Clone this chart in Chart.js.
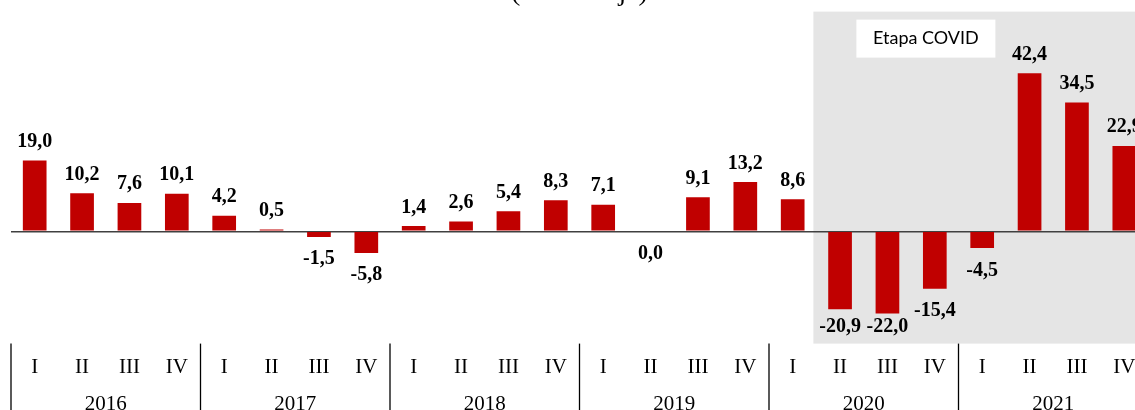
<!DOCTYPE html>
<html>
<head>
<meta charset="utf-8">
<script src="https://cdn.jsdelivr.net/npm/chart.js@4"></script>
<style>
	html, body { margin: 0; padding: 0; background: #fff; overflow: hidden; width: 1135px; height: 410px; }
	#grafico { position: absolute; left: 0; top: -24px; }
</style>
</head>
<body>
<canvas id="grafico" width="1158" height="442"></canvas>
<script>
// datos (variacion % por trimestre)
const quarterLabels = ['I', 'II', 'III', 'IV'];
const yearLabels = ['2016', '2017', '2018', '2019', '2020', '2021'];
const values2016 = [19.0, 10.2, 7.6, 10.1];
const values2017 = [4.2, 0.5, -1.5, -5.8];
const values2018 = [1.4, 2.6, 5.4, 8.3];
const values2019 = [7.1, 0.0, 9.1, 13.2];
const values2020 = [8.6, -20.9, -22.0, -15.4];
const values2021 = [-4.5, 42.4, 34.5, 22.9];
const covidStart = 17; // 2020 II
const covidLabel = 'Etapa COVID';
const titleText = '(Porcentaje)';

const labels = yearLabels.flatMap(() => quarterLabels);
const values = [].concat(values2016, values2017, values2018, values2019, values2020, values2021);

const serif = "'Liberation Serif', 'Times New Roman', serif";

// zona gris COVID + recuadro blanco
const covidPlugin = {
	id: 'covid',
	beforeDraw(chart) {
		const { ctx, chartArea, scales } = chart;
		const half = (scales.x.getPixelForValue(1) - scales.x.getPixelForValue(0)) / 2;
		const left = scales.x.getPixelForValue(covidStart) - half - 3;
		ctx.save();
		ctx.fillStyle = '#e5e5e5';
		ctx.fillRect(left, chartArea.top, chart.width - left, chartArea.bottom - chartArea.top);
		ctx.fillStyle = '#fff';
		ctx.fillRect(left + 43, chartArea.top + 8, 139, 38);
		ctx.fillStyle = '#000';
		ctx.font = "18px Lato, 'Open Sans', sans-serif";
		ctx.textAlign = 'center';
		ctx.textBaseline = 'middle';
		ctx.fillText(covidLabel, left + 43 + 69.5, chartArea.top + 8 + 19);
		ctx.restore();
	}
};

// etiquetas de valor sobre/bajo las barras
const valueLabels = {
	id: 'valueLabels',
	afterDatasetsDraw(chart) {
		const { ctx, chartArea } = chart;
		const meta = chart.getDatasetMeta(0);
		ctx.save();
		ctx.font = 'bold 20px ' + serif;
		ctx.fillStyle = '#000';
		ctx.textAlign = 'center';
		ctx.textBaseline = 'alphabetic';
		meta.data.forEach((bar, i) => {
			const v = values[i];
			const txt = v.toFixed(1).replace('.', ',');
			let y;
			if (v > 0) y = bar.y - 13.5;
			else y = Math.min(bar.y + 27.5, chartArea.bottom - 12);
			ctx.fillText(txt, bar.x, y);
		});
		ctx.restore();
	}
};

// lineas separadoras de anos
const yearLines = {
	id: 'yearLines',
	afterDraw(chart) {
		const { ctx, chartArea, scales } = chart;
		const half = (scales.x.getPixelForValue(1) - scales.x.getPixelForValue(0)) / 2;
		ctx.save();
		ctx.strokeStyle = '#000';
		ctx.lineWidth = 1.3;
		for (let k = 0; k <= yearLabels.length; k++) {
			const x = scales.x.getPixelForValue(k * 4) - half;
			ctx.beginPath();
			ctx.moveTo(x, chartArea.bottom);
			ctx.lineTo(x, chart.height);
			ctx.stroke();
		}
		ctx.restore();
	}
};

const ctx = document.getElementById('grafico').getContext('2d');
const chart = new Chart(ctx, {
	type: 'bar',
	data: {
		labels: labels,
		datasets: [{
			data: values,
			backgroundColor: '#c00000',
			borderWidth: 0,
			categoryPercentage: 1,
			barPercentage: 0.5
		}]
	},
	options: {
		responsive: false,
		animation: false,
		layout: { padding: { left: 11, right: 10, top: 0, bottom: 0 } },
		plugins: {
			legend: { display: false },
			tooltip: { enabled: false },
			title: {
				display: true,
				text: titleText,
				color: '#000',
				font: { family: serif, size: 28, weight: 'normal' },
				padding: { top: 0, bottom: 2 }
			}
		},
		scales: {
			x: {
				grid: { display: false },
				border: { display: false },
				ticks: { color: '#000', font: { family: serif, size: 21 }, padding: 3, maxRotation: 0, autoSkip: false }
			},
			x2: {
				type: 'category',
				labels: yearLabels,
				position: 'bottom',
				offset: true,
				grid: { display: false },
				border: { display: false },
				ticks: { color: '#000', font: { family: serif, size: 21 }, padding: 1, maxRotation: 0 }
			},
			y: {
				min: -30.1,
				max: 58.9,
				border: { display: false },
				ticks: { display: false },
				grid: {
					drawTicks: false,
					color: c => (c.tick && c.tick.value === 0) ? '#404040' : 'transparent',
					lineWidth: 1.6
				},
				afterBuildTicks: s => { s.ticks = [{ value: 0 }]; },
				afterFit: s => { s.width = 0; }
			}
		}
	},
	plugins: [covidPlugin, valueLabels, yearLines]
});
</script>
</body>
</html>
